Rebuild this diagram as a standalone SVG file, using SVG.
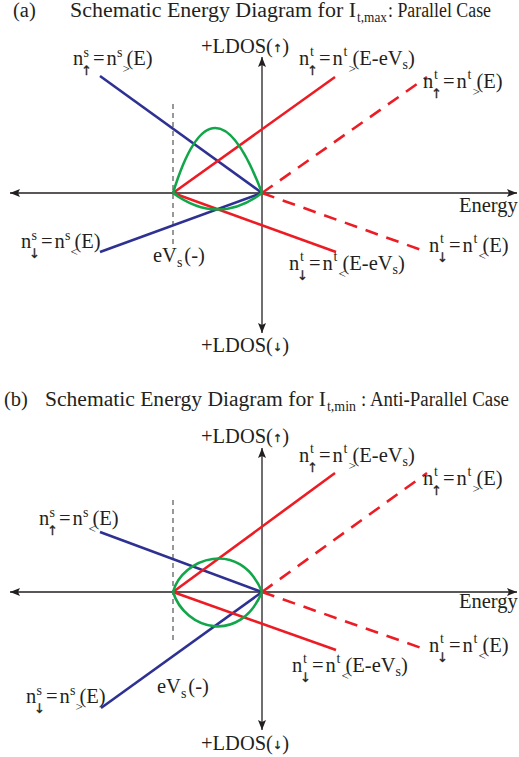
<svg xmlns="http://www.w3.org/2000/svg" width="519" height="757" viewBox="0 0 519 757" font-family="'Liberation Serif', 'Times New Roman', 'DejaVu Serif', serif">
<style>
text{font-family:'Liberation Serif','Times New Roman','DejaVu Serif',serif}
.t{font-size:20.5px;fill:#231f20}
.sup{font-size:14px}
.cmp{font-size:13px}
.ar{font-family:'DejaVu Sans',sans-serif;font-size:13px;fill:#231f20;stroke:#231f20;stroke-width:0.3;text-anchor:middle}
.axis{stroke:#231f20;stroke-width:1.3;fill:none}
.vd{stroke:#555;stroke-width:1.2;stroke-dasharray:5 4;fill:none}
.blue{stroke:#2e3192;stroke-width:2.6;fill:none}
.red{stroke:#ed1c24;stroke-width:2.6;fill:none}
.redd{stroke:#ed1c24;stroke-width:2.6;fill:none;stroke-dasharray:13 9}
.green{stroke:#12a64a;stroke-width:2.6;fill:none}
</style>
<defs>
<marker id="ah" viewBox="0 0 10 8" refX="10" refY="4" markerWidth="10" markerHeight="8" markerUnits="userSpaceOnUse" orient="auto-start-reverse">
<path d="M0,0 L10,4 L0,8 L2,4 Z" fill="#231f20"/>
</marker>
</defs>

<g id="title-a">
<text class="t" x="13" y="17">(a)</text>
<text class="t" x="70" y="17" textLength="286" lengthAdjust="spacingAndGlyphs">Schematic Energy Diagram for I</text>
<text class="t sup" x="357" y="22" textLength="30" lengthAdjust="spacingAndGlyphs">t,max</text>
<text class="t" x="388" y="17" textLength="103" lengthAdjust="spacingAndGlyphs">: Parallel Case</text>
</g>
<g id="title-b">
<text class="t" x="4" y="406">(b)</text>
<text class="t" x="45" y="406" textLength="281" lengthAdjust="spacingAndGlyphs">Schematic Energy Diagram for I</text>
<text class="t sup" x="327" y="411" textLength="29" lengthAdjust="spacingAndGlyphs">t,min</text>
<text class="t" x="361" y="406" textLength="148" lengthAdjust="spacingAndGlyphs">: Anti-Parallel Case</text>
</g>

<g id="connectors">
<line class="axis" x1="10" y1="193" x2="517" y2="193" marker-start="url(#ah)" marker-end="url(#ah)"/>
<line class="axis" x1="262" y1="57" x2="262" y2="333" marker-start="url(#ah)" marker-end="url(#ah)"/>
<line class="vd" x1="173" y1="104" x2="173" y2="246"/>
<line class="blue" x1="100" y1="76" x2="262" y2="193"/>
<line class="blue" x1="100" y1="252" x2="262" y2="193"/>
<line class="red" x1="173" y1="193" x2="335" y2="77"/>
<line class="red" x1="173" y1="193" x2="336" y2="252"/>
<line class="redd" x1="262" y1="193" x2="427" y2="77"/>
<line class="redd" x1="262" y1="193" x2="427" y2="252"/>
<path class="green" d="M173,193 Q213,63 262,193"/>
<path class="green" d="M173,193 Q218,226 262,193"/>
<line class="axis" x1="10" y1="592" x2="517" y2="592" marker-start="url(#ah)" marker-end="url(#ah)"/>
<line class="axis" x1="262" y1="448" x2="262" y2="730" marker-start="url(#ah)" marker-end="url(#ah)"/>
<line class="vd" x1="173" y1="500" x2="173" y2="642"/>
<line class="blue" x1="100" y1="532" x2="262" y2="592"/>
<line class="blue" x1="101" y1="708" x2="262" y2="592"/>
<line class="red" x1="173" y1="592" x2="335" y2="473"/>
<line class="red" x1="173" y1="592" x2="336" y2="650"/>
<line class="redd" x1="262" y1="592" x2="427" y2="473"/>
<line class="redd" x1="262" y1="592" x2="427" y2="650"/>
<path class="green" d="M173,592 C182,558 240,538 262,592"/>
<path class="green" d="M173,592 C185,630 240,645 262,592"/>
</g>

<g id="a-ldos-up"><text class="t" x="201" y="53">+LDOS(<tspan class="ar" style="font-size:11px" dy="-1">↑</tspan><tspan dy="1">)</tspan></text></g>
<g id="a-ldos-down"><text class="t" x="201" y="352">+LDOS(<tspan class="ar" style="font-size:11px" dy="-1">↓</tspan><tspan dy="1">)</tspan></text></g>
<g id="a-energy"><text class="t" x="459" y="212">Energy</text></g>
<g id="a-evs"><text class="t" x="153" y="262">eV<tspan class="sup" dy="5">s</tspan><tspan dx="2" dy="-5">(-)</tspan></text></g>

<g id="a-nsup" transform="translate(73,65)">
<text class="t">n</text><text class="t sup" x="10.5" y="-8">s</text><text class="ar" x="13.5" y="10">↑</text>
<text class="t" x="20">=</text><text class="t" x="33.5">n</text><text class="t sup" x="44" y="-8">s</text><text class="t cmp" x="49.5" y="8">&gt;</text>
<text class="t" x="53.5">(E)</text>
</g>
<g id="a-ntup1" transform="translate(299,65)">
<text class="t">n</text><text class="t sup" x="11" y="-9">t</text><text class="ar" x="13.5" y="10">↑</text>
<text class="t" x="20">=</text><text class="t" x="33.5">n</text><text class="t sup" x="44.5" y="-9">t</text><text class="t cmp" x="49.5" y="8">&gt;</text>
<text class="t" x="53.5">(E-eV<tspan class="sup" dy="4">s</tspan><tspan dy="-4">)</tspan></text>
</g>
<g id="a-ntup2" transform="translate(423,88)">
<text class="t">n</text><text class="t sup" x="11" y="-9">t</text><text class="ar" x="13.5" y="10">↑</text>
<text class="t" x="20">=</text><text class="t" x="33.5">n</text><text class="t sup" x="44.5" y="-9">t</text><text class="t cmp" x="49.5" y="8">&gt;</text>
<text class="t" x="53.5">(E)</text>
</g>
<g id="a-nsdn" transform="translate(21,248)">
<text class="t">n</text><text class="t sup" x="10.5" y="-8">s</text><text class="ar" x="13.5" y="10">↓</text>
<text class="t" x="20">=</text><text class="t" x="33.5">n</text><text class="t sup" x="44" y="-8">s</text><text class="t cmp" x="49.5" y="8">&lt;</text>
<text class="t" x="53.5">(E)</text>
</g>
<g id="a-ntdn1" transform="translate(289,270)">
<text class="t">n</text><text class="t sup" x="11" y="-9">t</text><text class="ar" x="13.5" y="10">↓</text>
<text class="t" x="20">=</text><text class="t" x="33.5">n</text><text class="t sup" x="44.5" y="-9">t</text><text class="t cmp" x="49.5" y="8">&lt;</text>
<text class="t" x="53.5">(E-eV<tspan class="sup" dy="4">s</tspan><tspan dy="-4">)</tspan></text>
</g>
<g id="a-ntdn2" transform="translate(429,252)">
<text class="t">n</text><text class="t sup" x="11" y="-9">t</text><text class="ar" x="13.5" y="10">↓</text>
<text class="t" x="20">=</text><text class="t" x="33.5">n</text><text class="t sup" x="44.5" y="-9">t</text><text class="t cmp" x="49.5" y="8">&lt;</text>
<text class="t" x="53.5">(E)</text>
</g>

<g id="b-ldos-up"><text class="t" x="201" y="443">+LDOS(<tspan class="ar" style="font-size:11px" dy="-1">↑</tspan><tspan dy="1">)</tspan></text></g>
<g id="b-ldos-down"><text class="t" x="201" y="750">+LDOS(<tspan class="ar" style="font-size:11px" dy="-1">↓</tspan><tspan dy="1">)</tspan></text></g>
<g id="b-energy"><text class="t" x="459" y="608">Energy</text></g>
<g id="b-evs"><text class="t" x="157" y="693">eV<tspan class="sup" dy="5">s</tspan><tspan dx="2" dy="-5">(-)</tspan></text></g>

<g id="b-nsup" transform="translate(39,525)">
<text class="t">n</text><text class="t sup" x="10.5" y="-8">s</text><text class="ar" x="13.5" y="10">↑</text>
<text class="t" x="20">=</text><text class="t" x="33.5">n</text><text class="t sup" x="44" y="-8">s</text><text class="t cmp" x="49.5" y="8">&lt;</text>
<text class="t" x="53.5">(E)</text>
</g>
<g id="b-ntup1" transform="translate(299,462)">
<text class="t">n</text><text class="t sup" x="11" y="-9">t</text><text class="ar" x="13.5" y="10">↑</text>
<text class="t" x="20">=</text><text class="t" x="33.5">n</text><text class="t sup" x="44.5" y="-9">t</text><text class="t cmp" x="49.5" y="8">&gt;</text>
<text class="t" x="53.5">(E-eV<tspan class="sup" dy="4">s</tspan><tspan dy="-4">)</tspan></text>
</g>
<g id="b-ntup2" transform="translate(423,485)">
<text class="t">n</text><text class="t sup" x="11" y="-9">t</text><text class="ar" x="13.5" y="10">↑</text>
<text class="t" x="20">=</text><text class="t" x="33.5">n</text><text class="t sup" x="44.5" y="-9">t</text><text class="t cmp" x="49.5" y="8">&gt;</text>
<text class="t" x="53.5">(E)</text>
</g>
<g id="b-nsdn" transform="translate(26,703)">
<text class="t">n</text><text class="t sup" x="10.5" y="-8">s</text><text class="ar" x="13.5" y="10">↓</text>
<text class="t" x="20">=</text><text class="t" x="33.5">n</text><text class="t sup" x="44" y="-8">s</text><text class="t cmp" x="49.5" y="8">&gt;</text>
<text class="t" x="53.5">(E)</text>
</g>
<g id="b-ntdn1" transform="translate(292,672)">
<text class="t">n</text><text class="t sup" x="11" y="-9">t</text><text class="ar" x="13.5" y="10">↓</text>
<text class="t" x="20">=</text><text class="t" x="33.5">n</text><text class="t sup" x="44.5" y="-9">t</text><text class="t cmp" x="49.5" y="8">&lt;</text>
<text class="t" x="53.5">(E-eV<tspan class="sup" dy="4">s</tspan><tspan dy="-4">)</tspan></text>
</g>
<g id="b-ntdn2" transform="translate(429,652)">
<text class="t">n</text><text class="t sup" x="11" y="-9">t</text><text class="ar" x="13.5" y="10">↓</text>
<text class="t" x="20">=</text><text class="t" x="33.5">n</text><text class="t sup" x="44.5" y="-9">t</text><text class="t cmp" x="49.5" y="8">&lt;</text>
<text class="t" x="53.5">(E)</text>
</g>
</svg>
